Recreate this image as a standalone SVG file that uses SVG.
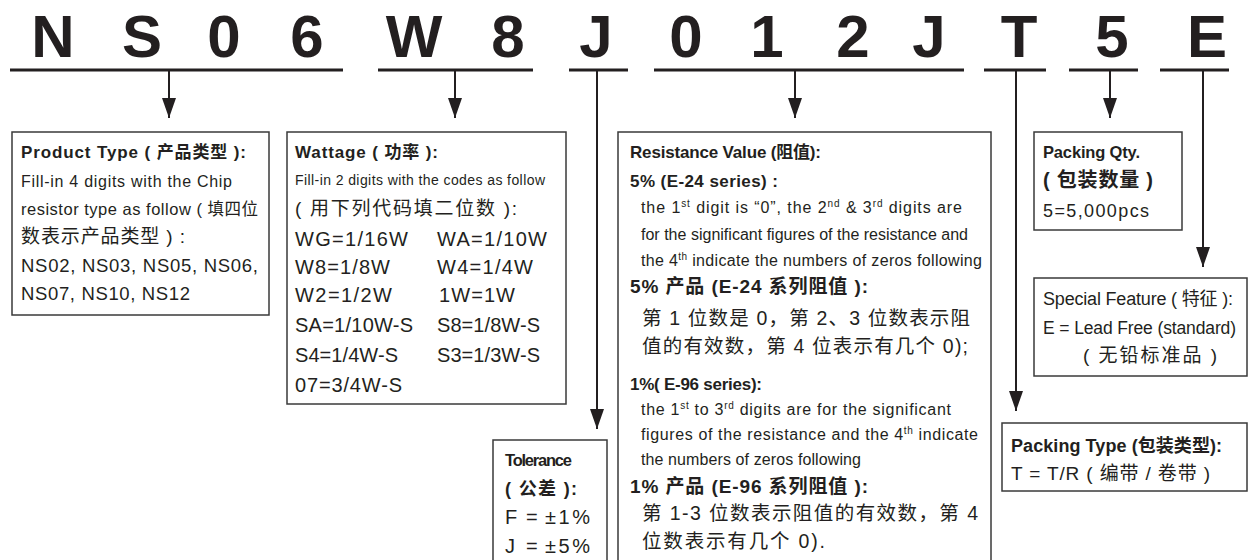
<svg xmlns="http://www.w3.org/2000/svg" width="1248" height="560" viewBox="0 0 1248 560">
<defs>
<marker id="ah" markerUnits="userSpaceOnUse" markerWidth="14" markerHeight="20" viewBox="0 0 14 20" refX="7" refY="20" orient="0">
<path d="M0,0 L14,0 L7,20 Z" fill="#231f20"/>
</marker>
<style>
.big{font-family:"Liberation Sans","DejaVu Sans",sans-serif;font-weight:bold;font-size:60px;fill:#231f20;text-anchor:middle}
.t{font-family:"Liberation Sans","Noto Sans CJK SC",sans-serif;fill:#231f20}
.b{font-weight:bold}
.box{fill:#fff;stroke:#3a3a3a;stroke-width:1.5}
.ul{stroke:#231f20;stroke-width:3;fill:none}
.c{stroke:#231f20;stroke-width:2;fill:none}
</style>
</defs>
<rect width="1248" height="560" fill="#fff"/>

<g id="code">
<text class="big" x="53" y="57">N</text>
<text class="big" x="142" y="57">S</text>
<text class="big" x="224" y="57">0</text>
<text class="big" x="307" y="57">6</text>
<text class="big" x="414" y="57">W</text>
<text class="big" x="508" y="57">8</text>
<text class="big" x="596" y="57">J</text>
<text class="big" x="686" y="57">0</text>
<text class="big" x="767" y="57">1</text>
<text class="big" x="853" y="57">2</text>
<text class="big" x="929" y="57">J</text>
<text class="big" x="1019" y="57">T</text>
<text class="big" x="1112" y="57">5</text>
<text class="big" x="1207" y="57">E</text>
</g>

<g id="connectors">
<line class="ul" x1="10" y1="70" x2="343" y2="70"/>
<line class="ul" x1="378" y1="70" x2="533" y2="70"/>
<line class="ul" x1="569" y1="70" x2="628" y2="70"/>
<line class="ul" x1="654" y1="70" x2="964" y2="70"/>
<line class="ul" x1="984" y1="70" x2="1046" y2="70"/>
<line class="ul" x1="1069" y1="70" x2="1138" y2="70"/>
<line class="ul" x1="1160" y1="70" x2="1229" y2="70"/>
<line class="c" x1="169" y1="71" x2="169" y2="118" marker-end="url(#ah)"/>
<line class="c" x1="455" y1="71" x2="455" y2="118" marker-end="url(#ah)"/>
<line class="c" x1="597" y1="71" x2="597" y2="429" marker-end="url(#ah)"/>
<line class="c" x1="795" y1="71" x2="795" y2="118" marker-end="url(#ah)"/>
<line class="c" x1="1016" y1="71" x2="1016" y2="411" marker-end="url(#ah)"/>
<line class="c" x1="1110" y1="71" x2="1110" y2="118" marker-end="url(#ah)"/>
<line class="c" x1="1203" y1="71" x2="1203" y2="267" marker-end="url(#ah)"/>
</g>

<g id="product-type">
<rect class="box" x="12" y="132" width="257" height="183"/>
<text class="t b" x="21" y="158" font-size="17" textLength="225">Product Type ( 产品类型 ):</text>
<text class="t" x="21" y="187" font-size="16" textLength="211">Fill-in 4 digits with the Chip</text>
<text class="t" x="21" y="215" font-size="16.5" textLength="237">resistor type as follow ( 填四位</text>
<text class="t" x="21" y="243" font-size="19" textLength="164">数表示产品类型 ) :</text>
<text class="t" x="21" y="272" font-size="18.5" textLength="237">NS02, NS03, NS05, NS06,</text>
<text class="t" x="21" y="300" font-size="18.5" textLength="169">NS07, NS10, NS12</text>
</g>

<g id="wattage">
<rect class="box" x="287" y="132" width="279" height="272"/>
<text class="t b" x="295" y="158" font-size="17" textLength="143">Wattage ( 功率 ):</text>
<text class="t" x="295" y="185" font-size="14" textLength="250">Fill-in 2 digits with the codes as follow</text>
<text class="t" x="295" y="215" font-size="19" textLength="222">( 用下列代码填二位数 ):</text>
<g font-size="20">
<text class="t" x="295" y="246" textLength="113">WG=1/16W</text>
<text class="t" x="437" y="246" textLength="110">WA=1/10W</text>
<text class="t" x="295" y="274" textLength="95">W8=1/8W</text>
<text class="t" x="437" y="274" textLength="96">W4=1/4W</text>
<text class="t" x="295" y="302" textLength="97">W2=1/2W</text>
<text class="t" x="439" y="302" textLength="76">1W=1W</text>
<text class="t" x="295" y="332" textLength="118">SA=1/10W-S</text>
<text class="t" x="437" y="332" textLength="103">S8=1/8W-S</text>
<text class="t" x="295" y="362" textLength="103">S4=1/4W-S</text>
<text class="t" x="437" y="362" textLength="103">S3=1/3W-S</text>
<text class="t" x="295" y="392" textLength="107">07=3/4W-S</text>
</g>
</g>

<g id="tolerance">
<rect class="box" x="493" y="440" width="114" height="140"/>
<text class="t b" x="505" y="466" font-size="16.5" textLength="67">Tolerance</text>
<text class="t b" x="505" y="495" font-size="18" textLength="72">( 公差 ):</text>
<text class="t" x="505" y="524" font-size="20">F</text>
<text class="t" x="526" y="524" font-size="20">=</text>
<text class="t" x="545" y="524" font-size="20" textLength="45">±1%</text>
<text class="t" x="505" y="553" font-size="20">J</text>
<text class="t" x="526" y="553" font-size="20">=</text>
<text class="t" x="545" y="553" font-size="20" textLength="45">±5%</text>
</g>

<g id="resistance">
<rect class="box" x="618" y="132" width="373" height="448"/>
<text class="t b" x="630" y="158" font-size="17" textLength="191">Resistance Value (阻值):</text>
<text class="t b" x="630" y="187" font-size="17" textLength="148">5% (E-24 series) :</text>
<text class="t" x="641" y="213" font-size="16" textLength="321">the 1<tspan font-size="10" dy="-6">st</tspan><tspan dy="6"> digit is “0”, the 2</tspan><tspan font-size="10" dy="-6">nd</tspan><tspan dy="6"> &amp; 3</tspan><tspan font-size="10" dy="-6">rd</tspan><tspan dy="6"> digits are</tspan></text>
<text class="t" x="641" y="240" font-size="16" textLength="327">for the significant figures of the resistance and</text>
<text class="t" x="641" y="266" font-size="16" textLength="341">the 4<tspan font-size="10" dy="-6">th</tspan><tspan dy="6"> indicate the numbers of zeros following</tspan></text>
<text class="t b" x="630" y="293" font-size="19" textLength="238">5% 产品 (E-24 系列阻值 ):</text>
<text class="t" x="642" y="325" font-size="19.5" textLength="328">第 1 位数是 0，第 2、3 位数表示阻</text>
<text class="t" x="642" y="353" font-size="19.5" textLength="326">值的有效数，第 4 位表示有几个 0);</text>
<text class="t b" x="630" y="390" font-size="17" textLength="132">1%( E-96 series):</text>
<text class="t" x="641" y="415" font-size="16" textLength="310">the 1<tspan font-size="10" dy="-6">st</tspan><tspan dy="6"> to 3</tspan><tspan font-size="10" dy="-6">rd</tspan><tspan dy="6"> digits are for the significant</tspan></text>
<text class="t" x="641" y="440" font-size="16" textLength="337">figures of the resistance and the 4<tspan font-size="10" dy="-6">th</tspan><tspan dy="6"> indicate</tspan></text>
<text class="t" x="641" y="465" font-size="16" textLength="220">the numbers of zeros following</text>
<text class="t b" x="630" y="493" font-size="19" textLength="238">1% 产品 (E-96 系列阻值 ):</text>
<text class="t" x="642" y="520" font-size="19.5" textLength="336">第 1-3 位数表示阻值的有效数，第 4</text>
<text class="t" x="642" y="548" font-size="19.5" textLength="183">位数表示有几个 0).</text>
</g>

<g id="packing-qty">
<rect class="box" x="1034" y="132" width="148" height="98"/>
<text class="t b" x="1043" y="158" font-size="16.5" textLength="97">Packing Qty.</text>
<text class="t b" x="1043" y="187" font-size="20" textLength="110">( 包装数量 )</text>
<text class="t" x="1043" y="217" font-size="18" textLength="106">5=5,000pcs</text>
</g>

<g id="special-feature">
<rect class="box" x="1034" y="278" width="213" height="98"/>
<text class="t" x="1043" y="305" font-size="18" textLength="190">Special Feature ( 特征 ):</text>
<text class="t" x="1043" y="334" font-size="17.5" textLength="193">E = Lead Free (standard)</text>
<text class="t" x="1083" y="362" font-size="19" textLength="134">( 无铅标准品 )</text>
</g>

<g id="packing-type">
<rect class="box" x="1002" y="423" width="245" height="68"/>
<text class="t b" x="1011" y="452" font-size="18" textLength="211">Packing Type (包装类型):</text>
<text class="t" x="1011" y="480" font-size="19" textLength="199">T = T/R ( 编带 / 卷带 )</text>
</g>
</svg>
